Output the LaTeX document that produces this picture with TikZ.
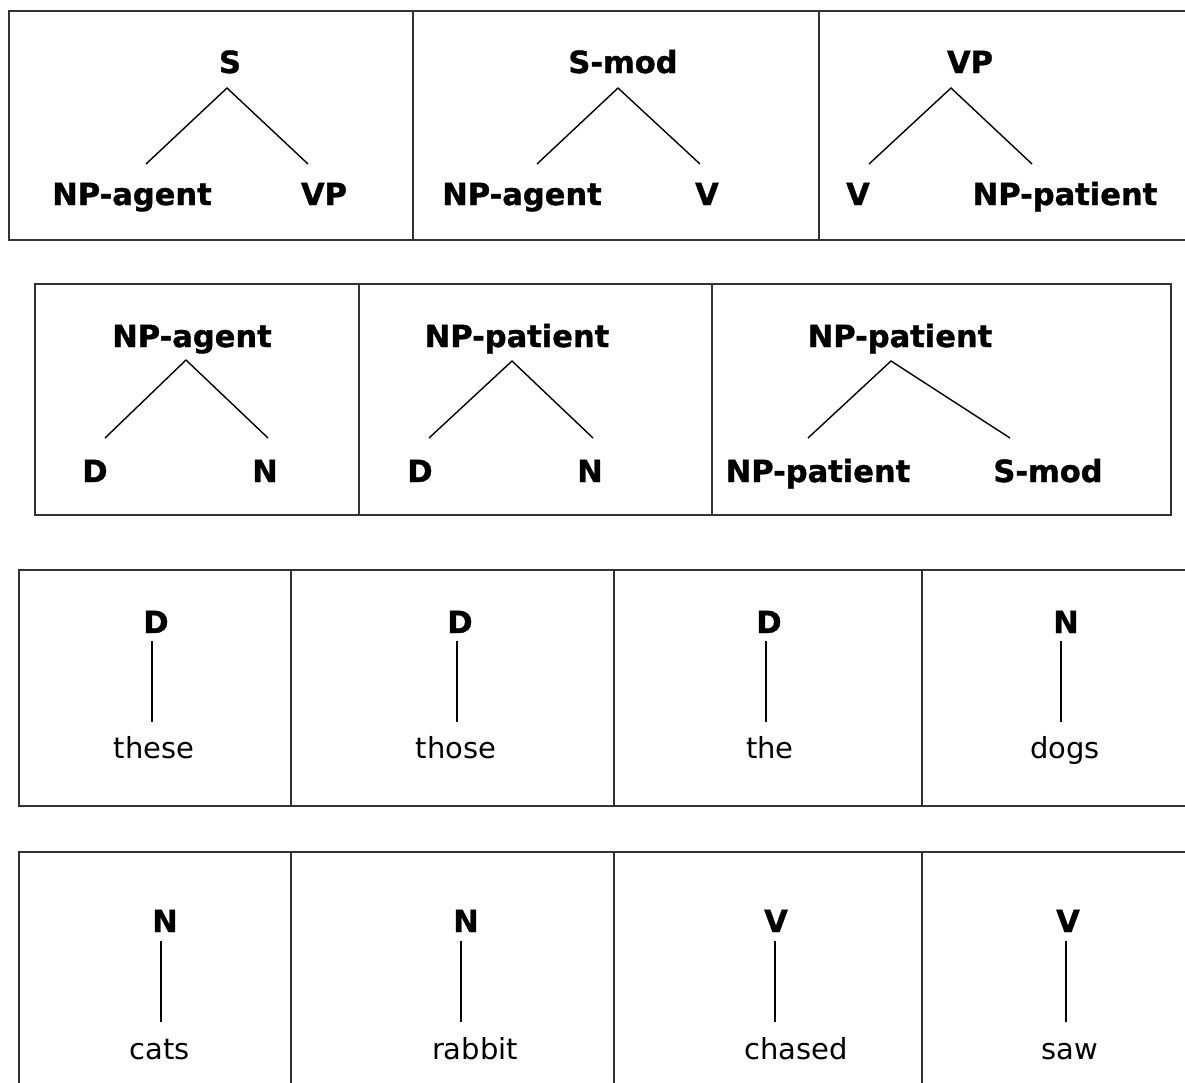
\documentclass[tikz,border=0pt]{standalone}
\usepackage{fontspec}
\setmainfont{DejaVu Sans}
\newfontfamily\catfont{DejaVu Sans Bold}[FakeBold=1.2]
\begin{document}
\begin{tikzpicture}[x=1pt,y=-1pt,
  cat/.style={anchor=base,inner sep=0pt,font=\fontsize{30.5}{34}\catfont},
  word/.style={anchor=base,inner sep=0pt,font=\fontsize{29}{33}\selectfont},
  boxline/.style={draw=black!80,line width=2pt},
  branch/.style={draw=black,line width=1.4pt}]
\clip (0,0) rectangle (1185,1082);
\fill[white] (0,0) rectangle (1185,1082);
% ---------- boxes ----------
% row 1
\draw[boxline] (9,11) rectangle (413,240);
\draw[boxline] (413,11) rectangle (819,240);
\draw[boxline] (819,11) rectangle (1200,240);
% row 2
\draw[boxline] (35,284) rectangle (359,515);
\draw[boxline] (359,284) rectangle (712,515);
\draw[boxline] (712,284) rectangle (1171,515);
% row 3
\draw[boxline] (19,570) rectangle (291,806);
\draw[boxline] (291,570) rectangle (614,806);
\draw[boxline] (614,570) rectangle (922,806);
\draw[boxline] (922,570) rectangle (1200,806);
% row 4
\draw[boxline] (19,852) rectangle (291,1100);
\draw[boxline] (291,852) rectangle (614,1100);
\draw[boxline] (614,852) rectangle (922,1100);
\draw[boxline] (922,852) rectangle (1200,1100);

% ---------- row 1 ----------
\node[cat] (s) at (230,73) {S};
\node[cat] (snp) at (132,205) {NP-agent};
\node[cat] (svp) at (324,205) {VP};
\coordinate (sA) at (227,88);
\coordinate (sL) at (146,164);
\coordinate (sR) at (308,164);
\draw[branch] (sL) -- (sA) -- (sR);

\node[cat] (sm) at (623,73) {S-mod};
\node[cat] (smnp) at (522,205) {NP-agent};
\node[cat] (smv) at (707,205) {V};
\coordinate (smA) at (618,88);
\coordinate (smL) at (537,164);
\coordinate (smR) at (700,164);
\draw[branch] (smL) -- (smA) -- (smR);

\node[cat] (vp) at (970,73) {VP};
\node[cat] (vpv) at (858,205) {V};
\node[cat] (vpnp) at (1065,205) {NP-patient};
\coordinate (vpA) at (951,88);
\coordinate (vpL) at (869,164);
\coordinate (vpR) at (1032,164);
\draw[branch] (vpL) -- (vpA) -- (vpR);

% ---------- row 2 ----------
\node[cat] (npa) at (192,347) {NP-agent};
\node[cat] (npad) at (95,482) {D};
\node[cat] (npan) at (265,482) {N};
\coordinate (npaA) at (186,360);
\coordinate (npaL) at (105,438);
\coordinate (npaR) at (268,438);
\draw[branch] (npaL) -- (npaA) -- (npaR);

\node[cat] (npp) at (517,347) {NP-patient};
\node[cat] (nppd) at (420,482) {D};
\node[cat] (nppn) at (590,482) {N};
\coordinate (nppA) at (512,361);
\coordinate (nppL) at (429,438);
\coordinate (nppR) at (593,438);
\draw[branch] (nppL) -- (nppA) -- (nppR);

\node[cat] (np2) at (900,347) {NP-patient};
\node[cat] (np2a) at (818,482) {NP-patient};
\node[cat] (np2b) at (1048,482) {S-mod};
\coordinate (np2A) at (891,361);
\coordinate (np2L) at (808,438);
\coordinate (np2R) at (1010,438);
\draw[branch] (np2L) -- (np2A) -- (np2R);

% ---------- row 3 ----------
\node[cat] (d1) at (156,633) {D};
\node[word] (w1) at (154,758) {these};
\coordinate (d1t) at (152,641);
\coordinate (d1b) at (152,722);
\draw[branch] (d1t) -- (d1b);

\node[cat] (d2) at (460,633) {D};
\node[word] (w2) at (456,758) {those};
\coordinate (d2t) at (457,641);
\coordinate (d2b) at (457,722);
\draw[branch] (d2t) -- (d2b);

\node[cat] (d3) at (769,633) {D};
\node[word] (w3) at (770,758) {the};
\coordinate (d3t) at (766,641);
\coordinate (d3b) at (766,722);
\draw[branch] (d3t) -- (d3b);

\node[cat] (n1) at (1066,633) {N};
\node[word] (w4) at (1065,758) {dogs};
\coordinate (n1t) at (1061,641);
\coordinate (n1b) at (1061,722);
\draw[branch] (n1t) -- (n1b);

% ---------- row 4 ----------
\node[cat] (n2) at (165,932) {N};
\node[word] (w5) at (160,1059) {cats};
\coordinate (n2t) at (161,941);
\coordinate (n2b) at (161,1022);
\draw[branch] (n2t) -- (n2b);

\node[cat] (n3) at (466,932) {N};
\node[word] (w6) at (475,1059) {rabbit};
\coordinate (n3t) at (461,941);
\coordinate (n3b) at (461,1022);
\draw[branch] (n3t) -- (n3b);

\node[cat] (v1) at (776,932) {V};
\node[word] (w7) at (796,1059) {chased};
\coordinate (v1t) at (775,941);
\coordinate (v1b) at (775,1022);
\draw[branch] (v1t) -- (v1b);

\node[cat] (v2) at (1068,932) {V};
\node[word] (w8) at (1070,1059) {saw};
\coordinate (v2t) at (1066,941);
\coordinate (v2b) at (1066,1022);
\draw[branch] (v2t) -- (v2b);
\end{tikzpicture}
\end{document}
